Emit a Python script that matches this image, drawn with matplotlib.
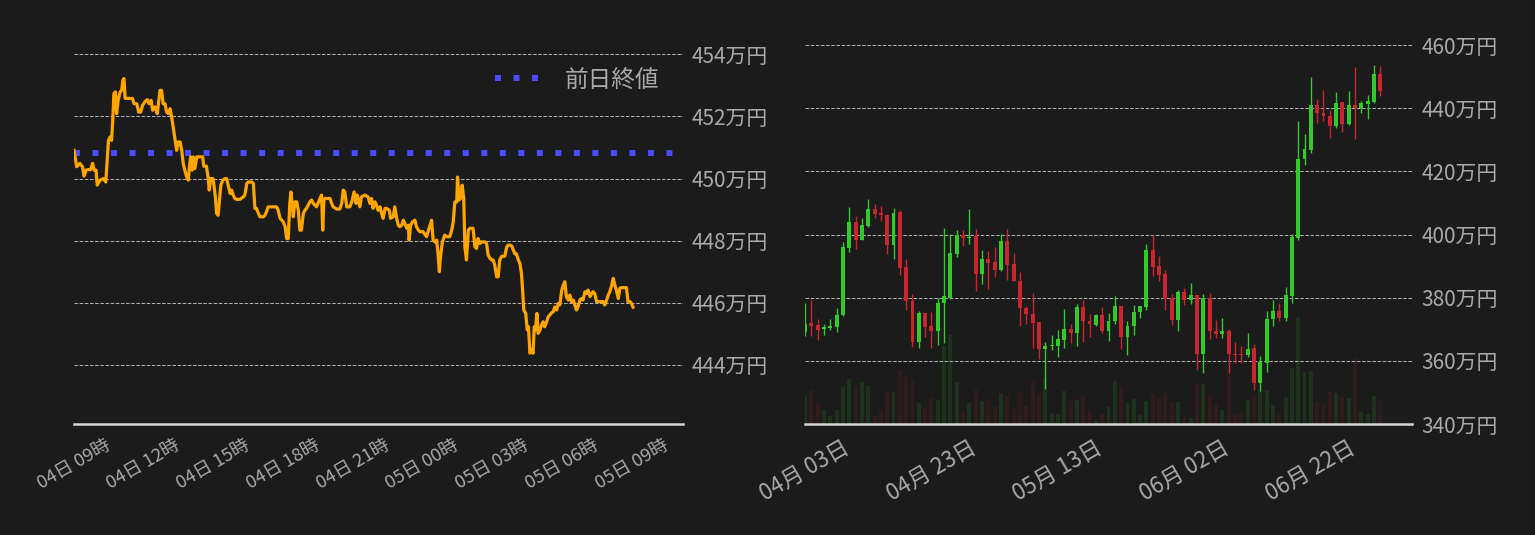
import numpy as np
import pandas as pd
import matplotlib
matplotlib.use('Agg')
import matplotlib.pyplot as plt
import matplotlib.dates as mdates
from matplotlib.ticker import FuncFormatter, MultipleLocator

plt.rcParams['font.family'] = ['Noto Sans CJK JP', 'DejaVu Sans']

BG = '#1b1b1b'
TXT = '#a9a9a9'
GREEN = '#33c92b'
RED = '#c9252f'

# --- 24時間チャート (04日 09時 からの経過分, 価格は万円)
intraday_start = pd.Timestamp('2023-07-04 09:00')
prev_close = 450.82
minutes = [
    0, 7, 15, 22, 26, 31, 37, 43, 48, 52, 57, 60, 67, 76, 82, 84, 89, 93, 97, 100,
    103, 107, 110, 114, 119, 123, 126, 129, 132, 139, 151, 155, 162, 167, 172, 177, 183, 189, 194, 199,
    203, 209, 215, 219, 222, 226, 230, 235, 239, 244, 248, 252, 256, 261, 265, 269, 274, 278, 282, 286,
    291, 295, 298, 301, 305, 308, 312, 317, 332, 335, 342, 347, 349, 353, 359, 365, 368, 372, 379, 384,
    390, 394, 398, 403, 407, 411, 415, 420, 428, 437, 441, 446, 450, 459, 463, 467, 471, 476, 480, 489,
    493, 497, 501, 523, 527, 532, 540, 545, 549, 553, 557, 560, 563, 566, 570, 575, 579, 583, 587, 592,
    596, 600, 609, 613, 618, 626, 635, 639, 642, 645, 648, 661, 665, 669, 678, 686, 691, 695, 699, 704,
    712, 717, 723, 728, 731, 738, 742, 751, 759, 764, 768, 772, 777, 781, 785, 790, 794, 798, 803, 807,
    814, 817, 824, 828, 833, 837, 841, 846, 850, 854, 859, 863, 865, 869, 874, 880, 884, 889, 893, 901,
    910, 914, 919, 923, 927, 932, 936, 940, 943, 946, 951, 957, 962, 970, 975, 979, 983, 988, 990, 994,
    998, 1002, 1006, 1009, 1013, 1018, 1022, 1030, 1035, 1039, 1043, 1048, 1052, 1061, 1065, 1069, 1074, 1078, 1082, 1086,
    1091, 1095, 1099, 1104, 1112, 1117, 1121, 1125, 1130, 1134, 1138, 1142, 1147, 1151, 1155, 1158, 1161, 1166, 1170, 1173,
    1177, 1181, 1185, 1188, 1191, 1195, 1198, 1203, 1207, 1211, 1215, 1220, 1224, 1228, 1233, 1237, 1241, 1246, 1250, 1254,
    1259, 1263, 1267, 1271, 1276, 1280, 1284, 1289, 1293, 1297, 1301, 1306, 1310, 1314, 1319, 1323, 1327, 1332, 1336, 1340,
    1344, 1349, 1366, 1370, 1375, 1379, 1383, 1387, 1392, 1396, 1400, 1405, 1409, 1413, 1426, 1430, 1435, 1439, 1443,
]
prices = [
    450.91, 450.38, 450.49, 450.38, 450.08, 450.27, 450.29, 450.29, 450.49, 450.27, 450.27, 449.79, 449.95, 450.00, 449.89, 450.27, 451.23, 451.34, 451.23, 451.88,
    452.74, 452.79, 452.09, 452.52, 452.79, 452.84, 453.16, 453.22, 452.58, 452.58, 452.58, 452.41, 452.41, 452.14, 452.14, 452.36, 452.47, 452.54, 452.41, 452.52,
    452.20, 452.31, 452.09, 452.52, 452.84, 452.84, 452.41, 452.41, 452.14, 452.09, 452.25, 451.98, 451.66, 451.23, 450.91, 451.18, 451.18, 450.91, 450.49, 450.27,
    450.05, 449.95, 450.38, 450.70, 450.27, 450.70, 450.32, 450.70, 450.70, 450.40, 450.40, 449.95, 449.63, 450.00, 450.00, 449.41, 448.88, 448.82, 449.79, 449.95,
    450.00, 450.00, 449.79, 449.52, 449.63, 449.47, 449.36, 449.33, 449.33, 449.41, 449.47, 449.84, 449.89, 449.89, 449.84, 449.04, 449.04, 448.88, 448.77, 448.77,
    448.82, 448.93, 449.09, 449.09, 448.98, 448.72, 448.61, 448.45, 448.07, 448.07, 449.20, 449.57, 449.20, 448.77, 449.25, 449.25, 448.98, 448.34, 448.34, 448.88,
    448.98, 449.04, 449.25, 449.31, 449.20, 449.09, 449.36, 449.47, 448.34, 449.31, 449.36, 449.36, 449.20, 449.09, 449.02, 449.02, 449.20, 449.63, 449.57, 449.09,
    449.09, 449.25, 449.57, 449.20, 449.47, 449.09, 449.41, 449.47, 449.41, 449.20, 449.36, 449.04, 449.25, 449.14, 448.98, 449.09, 448.88, 448.72, 449.04, 449.04,
    448.98, 448.72, 448.77, 449.09, 448.72, 448.50, 448.45, 448.50, 448.66, 448.56, 448.40, 448.50, 448.02, 448.50, 448.61, 448.66, 448.45, 448.34, 448.29, 448.29,
    448.13, 448.29, 448.50, 448.66, 448.02, 447.96, 448.02, 447.54, 447.00, 447.48, 447.96, 448.18, 448.13, 448.13, 448.34, 448.61, 449.25, 449.25, 450.05, 449.31,
    449.36, 449.79, 449.36, 447.80, 447.38, 448.34, 448.40, 448.40, 447.80, 447.75, 448.07, 447.91, 447.96, 447.96, 447.91, 447.54, 447.43, 447.38, 447.38, 447.22,
    446.84, 446.84, 447.38, 447.50, 447.50, 447.80, 447.86, 447.86, 447.83, 447.70, 447.58, 447.58, 447.38, 447.27, 446.95, 446.41, 445.77, 445.66, 445.13, 445.23,
    444.38, 444.48, 444.38, 445.23, 445.13, 445.66, 445.02, 445.13, 445.29, 445.39, 445.23, 445.39, 445.55, 445.61, 445.68, 445.71, 445.87, 445.77, 445.98, 445.93,
    446.41, 446.57, 446.68, 446.20, 446.09, 446.25, 446.04, 446.09, 445.93, 445.77, 445.87, 446.09, 446.14, 446.09, 446.36, 446.30, 446.41, 446.20, 446.30, 446.36,
    446.30, 446.04, 446.04, 445.93, 446.09, 446.25, 446.36, 446.52, 446.79, 446.57, 446.41, 446.14, 446.47, 446.49, 446.49, 446.04, 446.04, 445.98, 445.86,
]

# --- 日足 (万円)
day_start = pd.Timestamp('2023-04-03')
opens = [
    369.11, 371.83, 371.20, 370.05, 370.37, 370.68, 374.45, 395.81, 403.87, 398.32,
    402.72, 407.96, 406.70, 406.07, 396.75, 407.02, 389.74, 379.06, 365.97, 375.29,
    370.89, 369.42, 378.22, 379.90, 393.93, 399.90, 398.95, 399.48, 387.64, 392.25,
    391.31, 388.90, 397.91, 390.68, 385.34, 376.86, 374.97, 372.15, 363.77, 364.71,
    364.71, 366.60, 369.95, 368.80, 377.17, 372.77, 371.44, 374.59, 369.34, 372.49,
    377.22, 367.45, 370.92, 375.33, 376.90, 395.07, 390.03, 387.51, 379.74, 372.81,
    381.73, 379.11, 380.89, 362.10, 379.74, 369.55, 368.40, 369.55, 362.31, 362.10,
    361.79, 364.20, 352.97, 359.27, 373.12, 375.85, 373.44, 380.68, 398.95, 424.04,
    426.67, 441.05, 438.53, 437.59, 434.23, 442.00, 434.86, 441.05, 440.10, 441.47,
    442.00, 450.81,
]
highs = [
    378.32, 379.37, 373.09, 371.52, 373.09, 376.86, 397.59, 408.59, 405.76, 405.13,
    411.10, 409.53, 408.90, 406.60, 408.27, 407.64, 392.25, 381.26, 375.92, 375.29,
    375.60, 379.90, 401.99, 400.10, 401.36, 401.36, 407.96, 401.68, 395.08, 394.76,
    396.02, 400.21, 401.68, 394.14, 388.17, 377.49, 381.57, 372.15, 365.86, 368.06,
    369.63, 376.54, 371.52, 378.12, 379.37, 374.97, 374.91, 376.90, 375.12, 380.58,
    377.22, 372.70, 377.74, 377.43, 396.96, 400.00, 393.18, 388.77, 381.21, 382.47,
    383.10, 384.67, 380.89, 381.21, 381.52, 372.81, 373.65, 370.18, 366.09, 364.62,
    368.92, 365.46, 361.47, 375.85, 379.32, 378.37, 383.41, 400.21, 436.01, 431.92,
    449.87, 442.94, 445.77, 439.27, 445.14, 442.00, 445.46, 453.02, 442.31, 444.20,
    453.65, 453.33,
]
lows = [
    367.85, 367.85, 366.60, 368.17, 369.74, 369.11, 374.35, 394.55, 395.39, 398.22,
    402.41, 405.24, 404.29, 393.93, 392.25, 387.33, 376.02, 364.40, 364.08, 367.54,
    364.08, 365.03, 365.65, 379.48, 392.98, 396.44, 396.96, 381.99, 384.19, 382.62,
    386.70, 388.59, 385.45, 385.13, 370.99, 371.62, 364.08, 360.63, 351.20, 363.46,
    361.26, 364.08, 365.65, 364.71, 365.97, 367.54, 370.92, 368.82, 366.19, 371.65,
    363.88, 361.79, 368.29, 373.44, 376.17, 386.98, 385.41, 375.96, 371.23, 369.34,
    377.53, 377.96, 357.06, 356.22, 366.82, 367.14, 367.14, 356.22, 359.27, 359.27,
    361.16, 350.76, 350.45, 356.54, 370.92, 372.49, 372.49, 378.16, 398.32, 421.94,
    425.72, 435.17, 435.80, 430.45, 433.60, 432.34, 434.54, 430.13, 438.32, 436.43,
    441.68, 443.99,
]
closes = [
    371.73, 370.99, 369.74, 370.58, 370.99, 374.66, 396.02, 403.87, 398.32, 402.93,
    407.96, 406.39, 406.18, 396.75, 406.70, 389.53, 378.85, 365.97, 375.29, 370.68,
    369.42, 378.43, 380.63, 394.14, 399.90, 398.95, 399.16, 387.64, 392.25, 391.10,
    388.90, 397.91, 390.47, 385.13, 376.65, 374.76, 371.94, 363.77, 364.61, 364.92,
    366.81, 369.95, 368.80, 377.17, 372.57, 371.52, 374.59, 369.34, 372.70, 377.22,
    367.45, 371.13, 375.54, 377.22, 395.07, 389.82, 387.30, 379.53, 372.81, 381.73,
    379.11, 380.89, 362.10, 379.74, 369.34, 368.40, 369.55, 362.10, 361.79, 361.79,
    363.88, 352.97, 359.48, 373.33, 375.85, 373.44, 380.89, 399.16, 424.04, 427.19,
    441.05, 438.32, 437.38, 434.23, 441.68, 434.86, 441.05, 440.10, 441.68, 442.31,
    450.81, 445.56,
]
volumes = [
    277, 337, 207, 137, 77, 137, 367, 447, 377, 417, 377, 77, 127, 317, 317, 537,
    477, 437, 207, 157, 257, 237, 777, 887, 417, 127, 207, 337, 227, 227, 177, 297,
    277, 147, 327, 177, 427, 297, 457, 107, 97, 327, 227, 237, 267, 137, 37,
    97, 167, 427, 357, 207, 247, 87, 227, 297, 257, 297, 217, 217, 67, 57, 407,
    397, 277, 187, 137, 557, 97, 107, 237, 277, 337, 337, 187, 97, 267, 557, 1067,
    517, 527, 217, 197, 320, 307, 267, 257, 657, 117, 97, 277, 227,
]

man_yen = FuncFormatter(lambda v, p: f'{v:.0f}万円')


def style(ax, xlabel_size, ypad):
    ax.set_facecolor(BG)
    for s in ['top', 'left', 'right']:
        ax.spines[s].set_visible(False)
    ax.spines['bottom'].set_color('#d6d6d6')
    ax.spines['bottom'].set_linewidth(1.8)
    ax.yaxis.tick_right()
    ax.yaxis.set_major_formatter(man_yen)
    ax.tick_params(axis='y', length=0, pad=ypad, labelsize=15, labelcolor=TXT)
    ax.tick_params(axis='x', length=0, pad=9, labelsize=xlabel_size,
                   labelcolor=TXT, labelrotation=30)
    ax.grid(axis='y', color='#b4b4b4', ls='--', lw=0.7)
    ax.set_axisbelow(True)


fig = plt.figure(figsize=(15.35, 5.35), dpi=100, facecolor=BG)
ax1 = fig.add_axes([74 / 1535, 111 / 535, 609 / 1535, 379 / 535])
ax2 = fig.add_axes([805 / 1535, 111 / 535, 607 / 1535, 379 / 535])

# 左: 24時間
t = intraday_start + pd.to_timedelta(minutes, unit='min')
ax1.plot(t, prices, color='#ffa500', lw=2.3, zorder=3)
ax1.axhline(prev_close, color='#4b4bff', lw=4.3, ls=(0, (1, 2.1)),
            label='前日終値', zorder=2)
ax1.set_xlim(intraday_start, intraday_start + pd.Timedelta(hours=26.2))
ax1.set_ylim(442.1, 454.3)
ax1.yaxis.set_major_locator(MultipleLocator(2))
ax1.xaxis.set_major_locator(mdates.HourLocator(byhour=range(0, 24, 3)))
ax1.xaxis.set_major_formatter(mdates.DateFormatter('%d日 %H時'))
style(ax1, 13.2, 6.5)
ax1.legend(loc='upper right', frameon=False, fontsize=17, labelcolor=TXT,
           handlelength=1.85, handletextpad=1.1, borderaxespad=0.6)

# 右: 日足 + 出来高
dates = pd.date_range(day_start, periods=len(opens), freq='D')
o = np.array(opens)
h = np.array(highs)
l = np.array(lows)
c = np.array(closes)
colors = np.where(c >= o, GREEN, RED)

axv = ax2.twinx()
axv.bar(dates, volumes, width=0.62, color=colors, alpha=0.13)
axv.set_ylim(0, 3790)
axv.axis('off')
ax2.set_zorder(axv.get_zorder() + 1)
ax2.patch.set_visible(False)

ax2.vlines(dates, l, h, color=colors, lw=1.0)
ax2.bar(dates, np.maximum(np.abs(c - o), 0.25), bottom=np.minimum(o, c),
        width=0.62, color=colors)
ax2.set_xlim(dates[0], dates[-1] + pd.Timedelta(days=5))
ax2.set_ylim(340, 460)
ax2.yaxis.set_major_locator(MultipleLocator(20))
ax2.set_xticks(dates[::20])
ax2.xaxis.set_major_formatter(mdates.DateFormatter('%m月 %d日'))
style(ax2, 16, 7)

fig.savefig('out.png', dpi=100, facecolor=BG)
